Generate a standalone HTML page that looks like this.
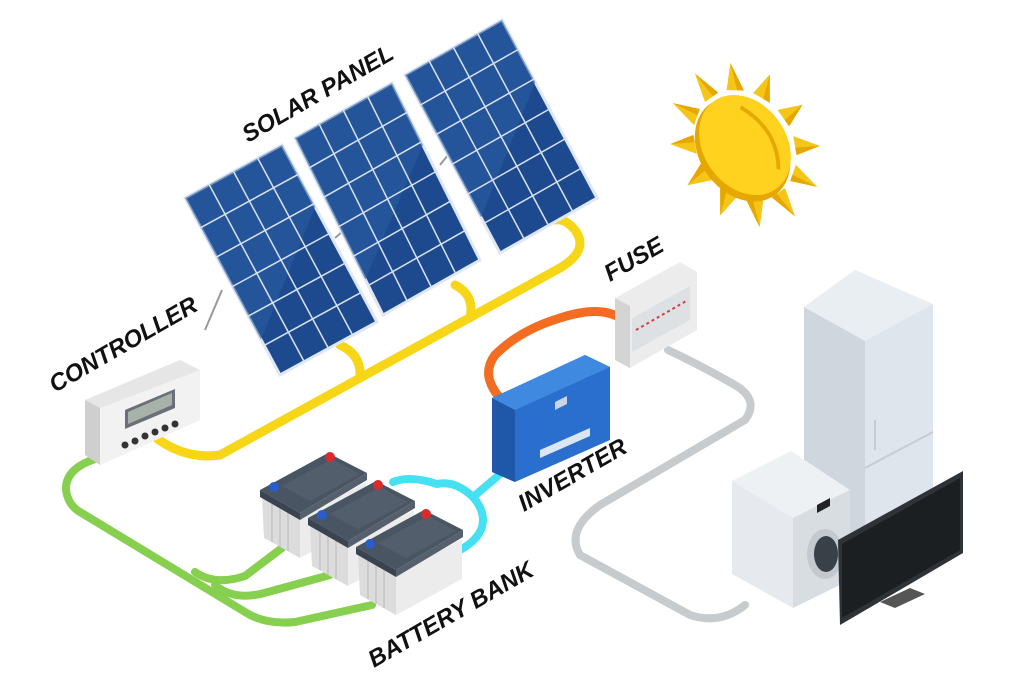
<!DOCTYPE html>
<html><head><meta charset="utf-8"><style>
html,body{margin:0;padding:0;background:#fff;}
svg{display:block;}
text{font-family:"Liberation Sans",sans-serif;font-weight:bold;font-style:italic;fill:#111;font-size:24px;}
</style></head><body>
<svg width="1024" height="683" viewBox="0 0 1024 683" xmlns="http://www.w3.org/2000/svg">
<defs>
<g id="grid">
<rect x="0" y="0" width="1" height="1" fill="#1d4a8e" stroke="#dfe7f2" stroke-width="3" vector-effect="non-scaling-stroke"/>
<polygon points="0,0 1,0 1,0.35 0,0.8" fill="#2a5ba0" opacity="0.6"/>
<g stroke="#d8e2f0" stroke-width="1.5">
<line x1="0.25" y1="0" x2="0.25" y2="1" vector-effect="non-scaling-stroke"/>
<line x1="0.5" y1="0" x2="0.5" y2="1" vector-effect="non-scaling-stroke"/>
<line x1="0.75" y1="0" x2="0.75" y2="1" vector-effect="non-scaling-stroke"/>
<line x1="0" y1="0.167" x2="1" y2="0.167" vector-effect="non-scaling-stroke"/>
<line x1="0" y1="0.333" x2="1" y2="0.333" vector-effect="non-scaling-stroke"/>
<line x1="0" y1="0.5" x2="1" y2="0.5" vector-effect="non-scaling-stroke"/>
<line x1="0" y1="0.667" x2="1" y2="0.667" vector-effect="non-scaling-stroke"/>
<line x1="0" y1="0.833" x2="1" y2="0.833" vector-effect="non-scaling-stroke"/>
</g>
</g>
<g id="bat">
<polygon points="2,6 40,28 40,68 4,48" fill="#dcdcdc"/>
<polygon points="40,28 106,-8 106,32 40,68" fill="#ececec"/>
<g stroke="#c4c4c4" stroke-width="1.5"><line x1="12" y1="14" x2="12" y2="52"/><line x1="20" y1="18" x2="20" y2="57"/><line x1="28" y1="22" x2="28" y2="61"/></g>
<polygon points="0,0 68,-37 107,-17 40,23" fill="#4a5563"/>
<polygon points="0,0 40,23 40,30 0,7" fill="#3a4350"/>
<polygon points="40,23 107,-17 107,-10 40,30" fill="#56606d"/>
<polygon points="22,-4 72,-31 100,-16 50,11" fill="#535e6c"/>
<circle cx="14" cy="-3" r="5" fill="#2b5cc9"/>
<circle cx="70" cy="-33" r="5" fill="#d92b2b"/>
</g>
<g id="ray"><polygon points="-9,-52 9,-52 0,-78" fill="#f5c518"/><polygon points="2,-52 9,-52 0,-78" fill="#e6a800"/></g>
</defs>

<!-- support lines -->
<line x1="205" y1="330" x2="222" y2="290" stroke="#999" stroke-width="2"/>
<line x1="335" y1="238" x2="350" y2="225" stroke="#999" stroke-width="2"/>
<line x1="440" y1="165" x2="452" y2="150" stroke="#999" stroke-width="2"/>

<!-- yellow cables -->
<g fill="none" stroke="#f7d617" stroke-width="9" stroke-linecap="round">
<path d="M155,437 Q185,460 220,455 L560,268 Q590,250 575,230 Q565,218 555,220"/>
<path d="M455,285 Q475,295 470,318"/>
<path d="M340,345 Q362,355 360,378"/>
</g>

<!-- panels -->
<use href="#grid" transform="matrix(97,-53,95,177,185,198)"/>
<use href="#grid" transform="matrix(97,-55,88,177,295,138)"/>
<use href="#grid" transform="matrix(97,-55,95,178,405,75)"/>

<!-- green cables -->
<g fill="none" stroke="#86cf4f" stroke-width="8" stroke-linecap="round">
<path d="M98,458 Q65,468 66,490 Q68,505 80,512 L245,612 Q265,625 295,622 L372,605"/>
<path d="M195,572 Q215,586 245,576 L282,548"/>
<path d="M215,585 Q235,602 268,592 L330,575"/>
</g>

<!-- controller -->
<polygon points="85,400 180,360 200,370 200,420 100,465 85,455" fill="#e6e6e6"/>
<polygon points="85,400 100,408 100,465 85,455" fill="#cfcfcf"/>
<polygon points="100,408 200,370 200,420 100,465" fill="#f2f2f2"/>
<polygon points="125,410 175,389 175,408 125,429" fill="#6b7078"/>
<polygon points="128,412 172,393 172,405 128,424" fill="#a7b3a8"/>
<g fill="#333"><circle cx="125" cy="445" r="3.5"/><circle cx="135" cy="441" r="3.5"/><circle cx="145" cy="436" r="3.5"/><circle cx="155" cy="432" r="3.5"/><circle cx="165" cy="428" r="3.5"/><circle cx="175" cy="424" r="3.5"/></g>

<!-- cyan cable -->
<g fill="none" stroke="#45e0f2" stroke-width="8" stroke-linecap="round">
<path d="M505,470 L473,497 Q455,480 437,484 Q410,475 393,482"/>
<path d="M473,497 Q486,512 482,527 Q478,540 460,550"/>
</g>

<!-- batteries -->
<use href="#bat" transform="translate(260,490)"/>
<use href="#bat" transform="translate(308,518)"/>
<use href="#bat" transform="translate(356,547)"/>

<!-- orange cable -->
<path d="M500,398 Q480,375 495,355 Q520,330 560,318 Q600,305 620,318" fill="none" stroke="#f26d21" stroke-width="9" stroke-linecap="round"/>

<!-- inverter -->
<polygon points="492,398 585,355 610,367 610,440 515,482 492,472" fill="#2a6fce"/>
<polygon points="492,398 515,410 515,482 492,472" fill="#1f58a8"/>
<polygon points="492,398 585,355 610,367 515,410" fill="#3f8ae0"/>
<polygon points="555,402 567,396 567,404 555,410" fill="#c9d6e6"/>
<polygon points="540,450 590,428 590,436 540,458" fill="#dbe6f3"/>

<!-- gray cable -->
<path d="M668,350 Q700,365 735,385 Q760,400 745,420 L600,505 Q565,530 580,555 L690,615 Q720,625 745,605" fill="none" stroke="#c7cbcd" stroke-width="8" stroke-linecap="round"/>

<!-- fuse -->
<polygon points="615,298 680,262 697,272 697,330 630,368 615,360" fill="#ececec"/>
<polygon points="615,298 630,306 630,368 615,360" fill="#d4d4d4"/>
<polygon points="632,318 690,286 690,320 632,352" fill="#dde1e4"/>
<line x1="636" y1="330" x2="688" y2="300" stroke="#c44" stroke-width="2" stroke-dasharray="3 3"/>

<!-- sun -->
<g transform="translate(745,145) rotate(55) scale(1.12,0.9)">
<use href="#ray"/>
<use href="#ray" transform="rotate(30)"/>
<use href="#ray" transform="rotate(60)"/>
<use href="#ray" transform="rotate(90)"/>
<use href="#ray" transform="rotate(120)"/>
<use href="#ray" transform="rotate(150)"/>
<use href="#ray" transform="rotate(180)"/>
<use href="#ray" transform="rotate(210)"/>
<use href="#ray" transform="rotate(240)"/>
<use href="#ray" transform="rotate(270)"/>
<use href="#ray" transform="rotate(300)"/>
<use href="#ray" transform="rotate(330)"/>
<ellipse cx="2" cy="5" rx="50" ry="48" fill="#e6a800"/>
<ellipse cx="0" cy="0" rx="48" ry="46" fill="#ffd21f"/>
<path d="M-30,-20 Q5,-40 35,-15" fill="none" stroke="#e6a800" stroke-width="4"/>
</g>

<!-- fridge -->
<polygon points="804,307 855,270 933,304 933,560 865,600 804,560" fill="#e4e9ef"/>
<polygon points="804,307 865,341 865,600 804,565" fill="#d0d6dd"/>
<polygon points="865,341 933,304 933,560 865,600" fill="#dfe5ec"/>
<polygon points="804,307 855,270 933,304 865,341" fill="#e9eef3"/>
<line x1="865" y1="468" x2="933" y2="432" stroke="#c6ccd2" stroke-width="2"/>
<line x1="875" y1="420" x2="875" y2="450" stroke="#c6ccd2" stroke-width="2"/>

<!-- washer -->
<polygon points="732,481 791,451 850,490 793,518" fill="#eef1f4"/>
<polygon points="732,481 793,518 793,608 732,574" fill="#e6eaee"/>
<polygon points="793,518 850,490 850,580 793,608" fill="#d8dde2"/>
<polygon points="817,505 830,498 830,506 817,513" fill="#222"/>
<ellipse cx="825" cy="554" rx="18" ry="25" fill="#c3c9cf"/>
<ellipse cx="826" cy="554" rx="12" ry="18" fill="#3a4048"/>

<!-- tv -->
<polygon points="838,540 963,471 963,553 840,625" fill="#2f3338"/>
<polygon points="842,544 960,478 960,550 842,618" fill="#1b1f22"/>
<polygon points="880,602 910,588 925,594 895,608" fill="#555"/>

<!-- labels -->
<text transform="translate(248,143) rotate(-30)">SOLAR PANEL</text>
<text transform="translate(55,393) rotate(-30)">CONTROLLER</text>
<text transform="translate(610,282) rotate(-30)">FUSE</text>
<text transform="translate(524,512) rotate(-30)">INVERTER</text>
<text transform="translate(374,668) rotate(-30)">BATTERY BANK</text>
</svg>
</body></html>
